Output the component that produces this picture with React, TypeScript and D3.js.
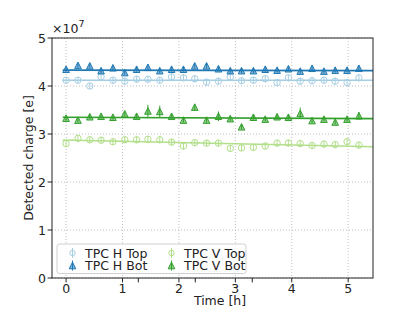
import React from 'react'
import * as d3 from 'd3'

// time of each measurement [h]
const times = [0, 0.21, 0.42, 0.62, 0.83, 1.04, 1.25, 1.45, 1.66, 1.87, 2.08, 2.28, 2.49, 2.7, 2.91, 3.11, 3.32, 3.53, 3.74, 3.94, 4.15, 4.36, 4.57, 4.77, 4.98, 5.19]

// detected charge, in units of 1e7 e
const hTop = [4.12, 4.12, 4.0, 4.19, 4.12, 4.1, 4.14, 4.14, 4.12, 4.19, 4.17, 4.15, 4.08, 4.1, 4.19, 4.11, 4.12, 4.15, 4.07, 4.17, 4.1, 4.11, 4.12, 4.1, 4.07, 4.17]
const hBot = [4.35, 4.43, 4.42, 4.32, 4.38, 4.28, 4.35, 4.39, 4.32, 4.35, 4.35, 4.42, 4.42, 4.36, 4.32, 4.32, 4.32, 4.35, 4.33, 4.36, 4.31, 4.37, 4.31, 4.33, 4.33, 4.37]
const vTop = [2.8, 2.91, 2.88, 2.87, 2.84, 2.88, 2.88, 2.89, 2.88, 2.83, 2.75, 2.82, 2.81, 2.81, 2.7, 2.71, 2.72, 2.75, 2.81, 2.81, 2.8, 2.76, 2.79, 2.78, 2.84, 2.77]
const vBot = [3.33, 3.29, 3.36, 3.37, 3.35, 3.42, 3.37, 3.48, 3.47, 3.37, 3.29, 3.56, 3.29, 3.37, 3.32, 3.15, 3.35, 3.31, 3.36, 3.35, 3.43, 3.28, 3.31, 3.25, 3.31, 3.38]

const hTopErr = [0.07, 0.07, 0.07, 0.07, 0.07, 0.07, 0.07, 0.07, 0.07, 0.07, 0.07, 0.07, 0.07, 0.07, 0.07, 0.07, 0.07, 0.07, 0.07, 0.07, 0.07, 0.07, 0.07, 0.07, 0.07, 0.07]
const hBotErr = [0.05, 0.05, 0.05, 0.05, 0.05, 0.05, 0.05, 0.05, 0.05, 0.05, 0.05, 0.05, 0.05, 0.05, 0.05, 0.05, 0.05, 0.05, 0.05, 0.05, 0.05, 0.05, 0.05, 0.05, 0.05, 0.05]
const vTopErr = [0.07, 0.07, 0.07, 0.07, 0.07, 0.07, 0.07, 0.07, 0.07, 0.07, 0.07, 0.07, 0.07, 0.07, 0.07, 0.07, 0.07, 0.07, 0.07, 0.07, 0.07, 0.07, 0.07, 0.07, 0.07, 0.07]
const vBotErr = [0.05, 0.05, 0.05, 0.05, 0.05, 0.05, 0.05, 0.13, 0.12, 0.05, 0.05, 0.06, 0.05, 0.1, 0.05, 0.05, 0.05, 0.05, 0.05, 0.05, 0.12, 0.05, 0.05, 0.05, 0.05, 0.08]

// linear fits: value at start and end of fitRange
const fitRange = [-0.06, 5.44]
const hTopFit = [4.12, 4.12]
const hBotFit = [4.33, 4.32]
const vTopFit = [2.875, 2.735]
const vBotFit = [3.35, 3.32]

const xTicks = [0, 1, 2, 3, 4, 5]
const xExtraTicks = [1.28, 2.29, 3.3]
const yTicks = [0, 1, 2, 3, 4, 5]

const series = [
  { name: 'TPC H Top', y: hTop, err: hTopErr, fit: hTopFit, color: '#a6cee3', marker: 'circle', col: 0, row: 0 },
  { name: 'TPC H Bot', y: hBot, err: hBotErr, fit: hBotFit, color: '#1f78b4', marker: 'tri', col: 0, row: 1 },
  { name: 'TPC V Top', y: vTop, err: vTopErr, fit: vTopFit, color: '#b2df8a', marker: 'circle', col: 1, row: 0 },
  { name: 'TPC V Bot', y: vBot, err: vBotErr, fit: vBotFit, color: '#33a02c', marker: 'tri', col: 1, row: 1 },
]

const font = "'DejaVu Sans', sans-serif"

const Marker = ({ type, x, y, color, size = 1 }) => {
  if (type === 'circle') {
    return <circle cx={x} cy={y} r={3.2 * size} fill='none' stroke={color} strokeWidth={1} />
  }
  const s = 3.3 * size
  const pts = `${x},${y - s} ${x - s},${y + s} ${x + s},${y + s}`
  return <polygon points={pts} fill={color} fillOpacity={0.55} stroke={color} strokeWidth={1} />
}

const App = () => {
  const width = 415
  const height = 311
  const margin = { left: 52, right: 42, top: 38, bottom: 33 }

  const x = d3.scaleLinear().domain([-0.25, 5.44]).range([margin.left, width - margin.right])
  const y = d3.scaleLinear().domain([0, 5]).range([height - margin.bottom, margin.top])

  const [x0, x1] = x.range()
  const [yb, yt] = y.range()

  const fitLine = d3
    .line()
    .x((d) => x(d[0]))
    .y((d) => y(d[1]))

  return (
    <svg width={width} height={height} style={{ position: 'absolute', left: 0, top: 0 }} fontFamily={font}>
      <rect width={width} height={height} fill='#fff' />
      <defs>
        <clipPath id='plot'>
          <rect x={x0} y={yt} width={x1 - x0} height={yb - yt} />
        </clipPath>
      </defs>

      {/* grid */}
      <g stroke='#b0b0b0' strokeWidth={0.8} strokeDasharray='1,2'>
        {xTicks.map((t) => (
          <line key={'gx' + t} x1={x(t)} x2={x(t)} y1={yt} y2={yb} />
        ))}
        {yTicks.map((t) => (
          <line key={'gy' + t} x1={x0} x2={x1} y1={y(t)} y2={y(t)} />
        ))}
      </g>

      {/* fit lines */}
      <g clipPath='url(#plot)'>
        {series.map((s) => (
          <path
            key={'fit' + s.name}
            d={fitLine([[fitRange[0], s.fit[0]], [fitRange[1], s.fit[1]]])}
            stroke={s.color}
            strokeWidth={1.6}
            fill='none'
          />
        ))}
      </g>

      {/* points with error bars */}
      <g clipPath='url(#plot)'>
        {series.map((s) =>
          times.map((t, i) => (
            <g key={s.name + i}>
              <line
                x1={x(t)}
                x2={x(t)}
                y1={y(s.y[i] - s.err[i])}
                y2={y(s.y[i] + s.err[i])}
                stroke={s.color}
                strokeWidth={1}
              />
              <Marker type={s.marker} x={x(t)} y={y(s.y[i])} color={s.color} />
            </g>
          ))
        )}
      </g>

      {/* spines */}
      <rect x={x0} y={yt} width={x1 - x0} height={yb - yt} fill='none' stroke='#222' strokeWidth={1} />

      {/* ticks */}
      <g stroke='#222' strokeWidth={1}>
        {xTicks.map((t) => (
          <line key={'xt' + t} x1={x(t)} x2={x(t)} y1={yb} y2={yb + 4.4} />
        ))}
        {xExtraTicks.map((t) => (
          <line key={'xe' + t} x1={x(t)} x2={x(t)} y1={yb} y2={yb + 4.4} />
        ))}
        {yTicks.map((t) => (
          <line key={'yt' + t} x1={x0} x2={x0 - 4.4} y1={y(t)} y2={y(t)} />
        ))}
      </g>
      <g fontSize={12.5} fill='#222'>
        {xTicks.map((t) => (
          <text key={'xl' + t} x={x(t)} y={yb + 14.5} textAnchor='middle'>
            {t}
          </text>
        ))}
        {yTicks.map((t) => (
          <text key={'yl' + t} x={x0 - 6} y={y(t) + 4.5} textAnchor='end'>
            {t}
          </text>
        ))}
        <text x={220} y={304.5} textAnchor='middle'>
          Time [h]
        </text>
        <text transform={`translate(33,${(yt + yb) / 2}) rotate(-90)`} textAnchor='middle'>
          Detected charge [e]
        </text>
        <text x={x0} y={33}>
          ×10<tspan dy={-6} fontSize={9.5}>7</tspan>
        </text>
      </g>

      {/* legend */}
      <g>
        <rect x={57} y={244} width={189} height={29.5} rx={2.5} fill='#fff' fillOpacity={0.8} stroke='#d0d0d0' strokeWidth={1} />
        {series.map((s) => {
          const mx = 72.5 + s.col * 99
          const my = 253 + s.row * 12.5
          return (
            <g key={'leg' + s.name}>
              <line x1={mx} x2={mx} y1={my - 5} y2={my + 5} stroke={s.color} strokeWidth={1} />
              <Marker type={s.marker} x={mx} y={my} color={s.color} size={s.marker === 'tri' ? 1 : 0.85} />
              <text x={mx + 12.5} y={my + 4.5} fontSize={12.5} fill='#222'>
                {s.name}
              </text>
            </g>
          )
        })}
      </g>
    </svg>
  )
}

export default App
